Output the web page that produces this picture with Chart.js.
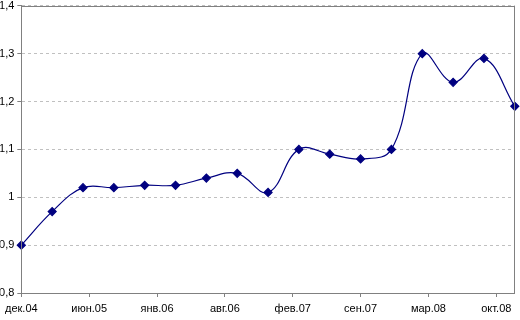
<!DOCTYPE html>
<html>
<head>
<meta charset="utf-8">
<script src="https://cdn.jsdelivr.net/npm/chart.js@4/dist/chart.umd.min.js"></script>
<style>
  html, body { margin: 0; padding: 0; background: #fff; }
  #wrap { width: 520px; height: 320px; }
</style>
</head>
<body>
<div id="wrap"><canvas id="chart" width="520" height="320"></canvas></div>
<script>
// Значения (квартальные точки)
const pointIndex = [0, 1, 2, 3, 4, 5, 6, 7, 8, 9, 10, 11, 12, 13, 14, 15, 16];
const values = [0.9, 0.97, 1.02, 1.02, 1.025, 1.025, 1.04, 1.05, 1.01, 1.1, 1.09, 1.08, 1.1, 1.3, 1.24, 1.29, 1.19];

// Подписи оси X и их позиции
const tickLabels = ["дек.04", "июн.05", "янв.06", "авг.06", "фев.07", "сен.07", "мар.08", "окт.08"];
const tickPositions = [0, 2.2, 4.4, 6.6, 8.8, 11, 13.2, 15.4];

const yTicks = [0.8, 0.9, 1.0, 1.1, 1.2, 1.3, 1.4];

// Рамка области построения
const plotBorder = {
    id: "plotBorder",
    afterDatasetsDraw(chart) {
        const { ctx, chartArea: a } = chart;
        ctx.save();
        ctx.strokeStyle = "#808080";
        ctx.lineWidth = 1;
        ctx.strokeRect(Math.round(a.left) + 0.5, Math.round(a.top) + 0.5,
            Math.round(a.right - a.left), Math.round(a.bottom - a.top));
        ctx.restore();
    }
};

Chart.defaults.font.family = "'Liberation Sans', Arial, sans-serif";
Chart.defaults.font.size = 11;
Chart.defaults.color = "#000";

new Chart(document.getElementById("chart"), {
    type: "scatter",
    data: {
        datasets: [{
            data: pointIndex.map((x, i) => ({ x: x, y: values[i] })),
            showLine: true,
            borderColor: "#000080",
            borderWidth: 1.2,
            tension: 0.4,
            pointStyle: "rectRot",
            pointRadius: 4,
            pointBackgroundColor: "#000080",
            pointBorderColor: "#000080",
            clip: false,
        }]
    },
    options: {
        responsive: false,
        animation: false,
        layout: { padding: { top: 5, right: 4, left: 0, bottom: 0 } },
        plugins: { legend: { display: false }, tooltip: { enabled: false } },
        scales: {
            x: {
                type: "linear",
                min: 0,
                max: 16,
                afterBuildTicks: scale => {
                    scale.ticks = tickPositions.map(v => ({ value: v }));
                },
                afterFit: scale => { scale.height = 27; },
                ticks: {
                    autoSkip: false,
                    maxRotation: 0,
                    padding: 5,
                    callback: (value, index) => tickLabels[index],
                },
                grid: { drawOnChartArea: false, drawTicks: true, tickLength: 4, color: "#808080" },
                border: { color: "#808080" },
            },
            y: {
                min: 0.8,
                max: 1.4,
                afterBuildTicks: scale => {
                    scale.ticks = yTicks.map(v => ({ value: v }));
                },
                afterFit: scale => { scale.width = 21; },
                ticks: {
                    padding: 3,
                    font: { lineHeight: 0.5 },
                    callback: value => String(Math.round(value * 10) / 10).replace(".", ","),
                },
                grid: { color: "#c0c0c0", tickColor: "#808080", tickLength: 4 },
                border: { color: "#808080", dash: [3, 3] },
            },
        },
    },
    plugins: [plotBorder],
});
</script>
</body>
</html>
